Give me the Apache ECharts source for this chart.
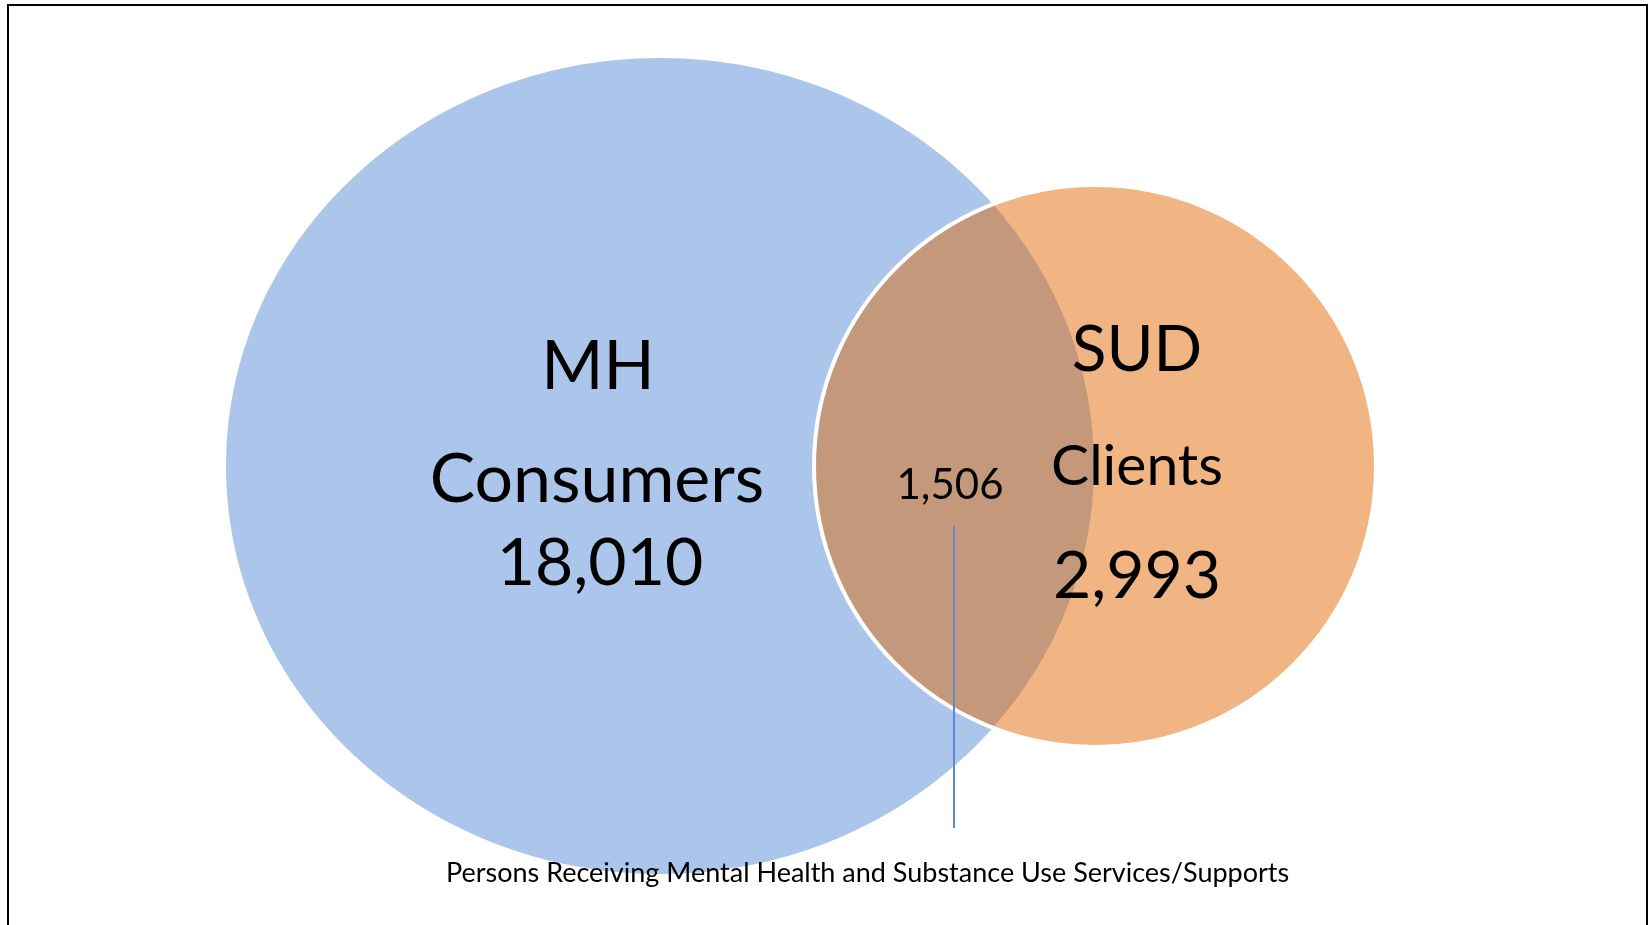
<!DOCTYPE html>
<html>
<head>
<meta charset="utf-8">
<title>MH / SUD overlap</title>
<script src="https://cdn.jsdelivr.net/npm/echarts@6/dist/echarts.min.js"></script>
<style>
    html, body { margin: 0; padding: 0; background: #fff; }
    #vennChart { width: 1649px; height: 925px; }
</style>
</head>
<body>
<div id="vennChart"></div>
<script>
    // values
    const setNames = ['MH', 'SUD'];
    const setLabels = ['Consumers', 'Clients'];
    const setCounts = [18010, 2993];
    const overlapCount = 1506;
    const captionText = 'Persons Receiving Mental Health and Substance Use Services/Supports';

    // shape layout in axis units (the hidden axes run 1:1 with the page)
    const shapes = [
        { cx: 660, cy: 466, rx: 434, ry: 408, color: '#ABC6EA' },
        { cx: 1095, cy: 466, rx: 281, ry: 281, color: '#F1B584' }
    ];
    // [x centre, baseline, font size]
    const setTextPos = [
        { name: [598, 391, 67], label: [597, 504, 68], count: [600, 587, 66] },
        { name: [1137, 373, 64], label: [1137, 487, 57], count: [1137, 600, 66] }
    ];
    const overlapTextPos = [950, 500, 42];
    const leaderLine = [954, 526, 828];
    const captionPos = [446, 883, 27];
    const overlapColor = '#C4997B';
    const fontFamily = 'Lato';

    const fmt = v => v.toLocaleString('en-US');

    function textEl(str, pos, api, align) {
        const p = api.coord([pos[0], pos[1]]);
        return {
            type: 'text',
            x: p[0],
            y: p[1] - pos[2] * 0.35,
            style: {
                text: str,
                fill: '#000',
                fontFamily: fontFamily,
                fontSize: pos[2],
                align: align || 'center',
                verticalAlign: 'middle'
            }
        };
    }

    function pixShape(s, api) {
        const c = api.coord([s.cx, s.cy]);
        const sz = api.size([s.rx, s.ry]);
        return { cx: c[0], cy: c[1], rx: Math.abs(sz[0]), ry: Math.abs(sz[1]) };
    }

    // x where the ellipse and the circle boundaries meet, and half height there
    function lensEdge(e, o) {
        const f = x => (1 - Math.pow((x - e.cx) / e.rx, 2)) * e.ry * e.ry
            - (o.ry * o.ry - Math.pow(x - o.cx, 2));
        let lo = o.cx - o.rx, hi = e.cx + e.rx;
        for (let k = 0; k < 60; k++) {
            const m = (lo + hi) / 2;
            if (f(lo) * f(m) <= 0) hi = m; else lo = m;
        }
        const x = (lo + hi) / 2;
        const h = Math.sqrt(Math.max(0, o.ry * o.ry - Math.pow(x - o.cx, 2)));
        return [x, h];
    }

    function renderSet(params, api) {
        const s = pixShape(shapes[params.dataIndex], api);
        return {
            type: 'ellipse',
            shape: s,
            style: { fill: shapes[params.dataIndex].color }
        };
    }

    function renderOverlap(params, api) {
        const e = pixShape(shapes[0], api);
        const o = pixShape(shapes[1], api);
        const edge = lensEdge(e, o);
        const x0 = edge[0], h = edge[1], cy = o.cy;
        const pathData = 'M' + x0 + ' ' + (cy - h)
            + ' A' + o.rx + ' ' + o.ry + ' 0 0 0 ' + x0 + ' ' + (cy + h)
            + ' A' + e.rx + ' ' + e.ry + ' 0 0 0 ' + x0 + ' ' + (cy - h) + ' Z';
        const l1 = api.coord([leaderLine[0], leaderLine[1]]);
        const l2 = api.coord([leaderLine[0], leaderLine[2]]);
        return {
            type: 'group',
            children: [
                { type: 'path', shape: { pathData: pathData }, style: { fill: overlapColor } },
                { type: 'ellipse', shape: o, style: { fill: null, stroke: '#fff', lineWidth: 4 } },
                {
                    type: 'line',
                    shape: { x1: l1[0], y1: l1[1], x2: l2[0], y2: l2[1] },
                    style: { stroke: '#5A8AD0', lineWidth: 2 }
                },
                textEl(fmt(api.value(0)), overlapTextPos, api)
            ]
        };
    }

    function renderLabels(params, api) {
        const i = params.dataIndex;
        if (i === setNames.length) {
            return textEl(captionText, captionPos, api, 'left');
        }
        const t = setTextPos[i];
        return {
            type: 'group',
            children: [
                textEl(setNames[i], t.name, api),
                textEl(setLabels[i], t.label, api),
                textEl(fmt(setCounts[i]), t.count, api)
            ]
        };
    }

    const vennChart = echarts.init(document.getElementById('vennChart'));
    const option = {
        animation: false,
        backgroundColor: '#fff',
        grid: { left: 0, right: 0, top: 0, bottom: 0 },
        xAxis: { type: 'value', min: 0, max: 1649, show: false },
        yAxis: { type: 'value', min: 0, max: 925, inverse: true, show: false },
        graphic: [{
            type: 'rect',
            shape: { x: 8, y: 5, width: 1639, height: 960 },
            style: { fill: null, stroke: '#000', lineWidth: 2 },
            z: 100
        }],
        series: [{
            name: 'sets',
            type: 'custom',
            renderItem: renderSet,
            data: setCounts.map(v => [v]),
            z: 1
        }, {
            name: 'overlap',
            type: 'custom',
            renderItem: renderOverlap,
            data: [[overlapCount]],
            z: 2
        }, {
            name: 'labels',
            type: 'custom',
            renderItem: renderLabels,
            data: setCounts.map(v => [v]).concat([[0]]),
            z: 3
        }]
    };
    vennChart.setOption(option);
</script>
</body>
</html>
